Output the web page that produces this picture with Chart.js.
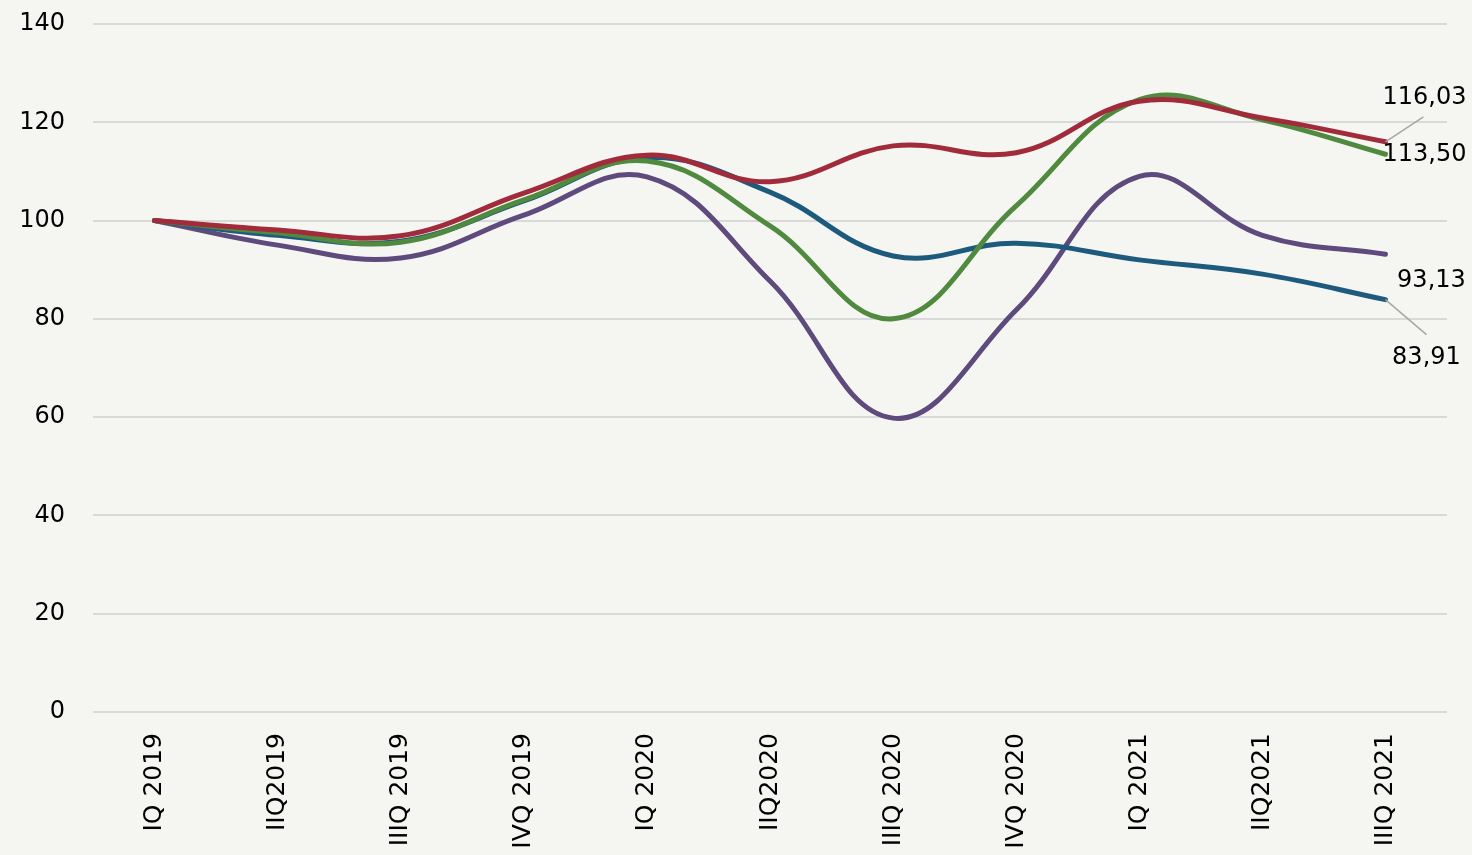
<!DOCTYPE html>
<html>
<head>
<meta charset="utf-8">
<script src="https://cdn.jsdelivr.net/npm/chart.js@4"></script>
<style>
  html, body { margin: 0; padding: 0; background: #f5f6f2; }
  #wrap { width: 1472px; height: 855px; }
</style>
</head>
<body>
<div id="wrap"><canvas id="chart"></canvas></div>
<script>
// quarters on the x axis
const quarters = ['IQ 2019', 'IIQ2019', 'IIIQ 2019', 'IVQ 2019', 'IQ 2020', 'IIQ2020',
  'IIIQ 2020', 'IVQ 2020', 'IQ 2021', 'IIQ2021', 'IIIQ 2021'];

// index values, IQ 2019 = 100
const redSeries = [100, 98.1, 96.9, 105.6, 113.3, 107.9, 115.2, 113.8, 124.3, 120.9, 116.03];
const greenSeries = [100, 97.5, 95.6, 104.2, 112.1, 98.9, 80.0, 103.0, 124.6, 120.5, 113.50];
const blueSeries = [100, 97.0, 95.8, 104.0, 112.8, 105.8, 92.8, 95.4, 92.0, 89.1, 83.91];
const purpleSeries = [100, 95.0, 92.4, 101.1, 108.9, 87.7, 59.8, 81.8, 109.0, 97.0, 93.13];

const yTicks = [0, 20, 40, 60, 80, 100, 120, 140];

const FONT = '"DejaVu Sans", sans-serif';

// end-of-line value labels (offset from the last point, optional leader line)
const endLabels = [
  { ds: 0, text: '116,03', dx: 39, dy: -44, lx: 38, ly: -25 },
  { ds: 1, text: '113,50', dx: 39, dy: 1 },
  { ds: 3, text: '93,13', dx: 46, dy: 26 },
  { ds: 2, text: '83,91', dx: 41, dy: 58, lx: 41, ly: 35 }
];

const endLabelPlugin = {
  id: 'endLabels',
  afterDatasetsDraw(chart) {
    const ctx = chart.ctx;
    ctx.save();
    ctx.font = '24px ' + FONT;
    ctx.fillStyle = '#000';
    ctx.textBaseline = 'middle';
    ctx.textAlign = 'center';
    endLabels.forEach(l => {
      const meta = chart.getDatasetMeta(l.ds);
      const pt = meta.data[meta.data.length - 1];
      if (l.lx !== undefined) {
        ctx.strokeStyle = '#a6a6a6';
        ctx.lineWidth = 1.5;
        ctx.beginPath();
        ctx.moveTo(pt.x, pt.y);
        ctx.lineTo(pt.x + l.lx, pt.y + l.ly);
        ctx.stroke();
      }
      ctx.fillText(l.text, pt.x + l.dx, pt.y + l.dy);
    });
    ctx.restore();
  }
};

const lineStyle = (color, data) => ({
  data: data,
  borderColor: color,
  backgroundColor: color,
  borderWidth: 5,
  borderCapStyle: 'round',
  pointRadius: 0,
  tension: 0.4,
  fill: false
});

new Chart(document.getElementById('chart'), {
  type: 'line',
  data: {
    labels: quarters,
    datasets: [
      { label: 'red', ...lineStyle('#a12a3b', redSeries), order: 1 },
      { label: 'green', ...lineStyle('#4f8a3f', greenSeries), order: 2 },
      { label: 'blue', ...lineStyle('#1e5a7d', blueSeries), order: 3 },
      { label: 'purple', ...lineStyle('#5e4a7c', purpleSeries), order: 4 }
    ]
  },
  options: {
    responsive: true,
    maintainAspectRatio: false,
    animation: false,
    layout: { padding: { top: 24, right: 25, left: 0, bottom: 0 } },
    plugins: {
      legend: { display: false },
      tooltip: { enabled: false }
    },
    scales: {
      x: {
        offset: true,
        grid: { display: false },
        border: { display: false },
        afterFit(axis) { axis.height = 143; },
        ticks: {
          color: '#000',
          font: { family: FONT, size: 25 },
          maxRotation: 90,
          minRotation: 90,
          autoSkip: false,
          padding: 13
        }
      },
      y: {
        min: 0,
        max: 140,
        afterBuildTicks(axis) { axis.ticks = yTicks.map(v => ({ value: v })); },
        afterFit(axis) {
          axis.width = 93;
          axis.paddingTop = 0;
          axis.paddingBottom = 0;
        },
        grid: { color: '#d9d9d9', lineWidth: 2, drawTicks: false },
        border: { display: false },
        ticks: {
          color: '#000',
          font: { family: FONT, size: 24 },
          padding: 28
        }
      }
    }
  },
  plugins: [endLabelPlugin]
});
</script>
</body>
</html>
